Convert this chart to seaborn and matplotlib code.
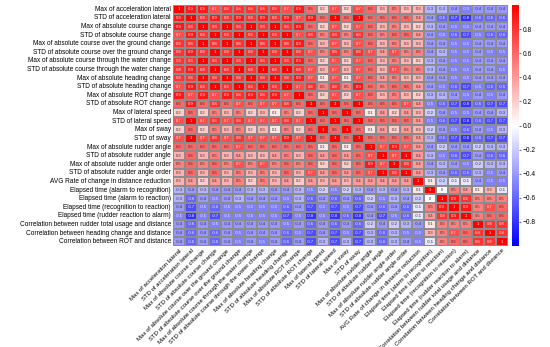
import numpy as np
import pandas as pd
import seaborn as sns
import matplotlib.pyplot as plt
from matplotlib.colors import LinearSegmentedColormap

labels = [
    'Max of acceleration lateral',
    'STD of acceleration lateral',
    'Max of absolute course change',
    'STD of absolute course change',
    'Max of absolute course over the ground change',
    'STD of absolute course over the ground change',
    'Max of absolute course through the water change',
    'STD of absolute course through the water change',
    'Max of absolute heading change',
    'STD of absolute heading change',
    'Max of absolute ROT change',
    'STD of absolute ROT change',
    'Max of lateral speed',
    'STD of lateral speed',
    'Max of sway',
    'STD of sway',
    'Max of absolute rudder angle',
    'STD of absolute rudder angle',
    'Max of absolute rudder angle order',
    'STD of absolute rudder angle order',
    'AVG Rate of change in distance reduction',
    'Elapsed time (alarm to recognition)',
    'Elapsed time (alarm to reaction)',
    'Elapsed time (recognition to reaction)',
    'Elapsed time (rudder reaction to alarm)',
    'Correlation between rudder total usage and distance',
    'Correlation between heading change and distance',
    'Correlation between ROT and distance',
]

# upper triangle: row i holds the values of columns i..28
upper = [
    [1, 0.9, 0.9, 0.7, 0.8, 0.8, 0.8, 0.8, 0.8, 0.7, 0.9, 0.6, 0.2, 0.7, 0.2, 0.7, 0.6, 0.3, 0.5, 0.3, 0.3, -0.3, -0.3, -0.4, -0.5, -0.4, -0.4, -0.4],
    [1, 0.8, 0.9, 0.8, 0.9, 0.8, 0.9, 0.8, 0.9, 0.7, 0.9, 0.6, 1, 0.6, 1, 0.6, 0.6, 0.6, 0.6, 0.4, -0.4, -0.6, -0.7, -0.8, -0.6, -0.6, -0.6],
    [1, 0.8, 1, 0.8, 1, 0.8, 1, 0.8, 0.9, 0.6, 0.2, 0.7, 0.2, 0.7, 0.6, 0.3, 0.5, 0.3, 0.2, -0.3, -0.4, -0.5, -0.5, -0.4, -0.4, -0.4],
    [1, 0.8, 1, 0.8, 1, 0.8, 1, 0.7, 0.8, 0.5, 0.8, 0.5, 0.8, 0.6, 0.5, 0.6, 0.6, 0.4, -0.4, -0.5, -0.6, -0.7, -0.5, -0.6, -0.6],
    [1, 0.8, 1, 0.8, 1, 0.8, 0.9, 0.6, 0.3, 0.7, 0.3, 0.7, 0.6, 0.3, 0.5, 0.3, 0.3, -0.4, -0.4, -0.5, -0.5, -0.4, -0.4, -0.4],
    [1, 0.8, 1, 0.8, 1, 0.8, 0.7, 0.5, 0.8, 0.5, 0.8, 0.7, 0.4, 0.7, 0.5, 0.5, -0.4, -0.3, -0.5, -0.5, -0.4, -0.5, -0.5],
    [1, 0.8, 1, 0.8, 0.9, 0.6, 0.2, 0.7, 0.2, 0.7, 0.6, 0.3, 0.5, 0.3, 0.2, -0.3, -0.4, -0.5, -0.5, -0.4, -0.4, -0.4],
    [1, 0.8, 1, 0.8, 0.7, 0.3, 0.7, 0.3, 0.7, 0.6, 0.3, 0.7, 0.5, 0.5, -0.3, -0.4, -0.5, -0.5, -0.4, -0.4, -0.5],
    [1, 0.8, 0.9, 0.7, 0.1, 0.7, 0.1, 0.7, 0.6, 0.4, 0.5, 0.3, 0.3, -0.4, -0.4, -0.5, -0.5, -0.4, -0.4, -0.4],
    [1, 0.7, 0.8, 0.5, 0.8, 0.5, 0.9, 0.6, 0.5, 0.6, 0.6, 0.4, -0.4, -0.5, -0.6, -0.7, -0.5, -0.6, -0.6],
    [1, 0.6, 0.2, 0.7, 0.2, 0.7, 0.6, 0.3, 0.5, 0.3, 0.2, -0.3, -0.3, -0.4, -0.5, -0.4, -0.5, -0.4],
    [1, 0.6, 1, 0.6, 1, 0.6, 0.6, 0.6, 0.7, 0.4, -0.5, -0.6, -0.7, -0.8, -0.6, -0.7, -0.7],
    [1, 0.6, 1, 0.6, 0.1, 0.4, 0.2, 0.4, 0.3, -0.2, -0.4, -0.5, -0.5, -0.4, -0.4, -0.3],
    [1, 0.6, 1, 0.6, 0.6, 0.6, 0.6, 0.4, -0.5, -0.6, -0.7, -0.8, -0.6, -0.7, -0.7],
    [1, 0.6, 0.1, 0.4, 0.2, 0.4, 0.3, -0.2, -0.4, -0.5, -0.6, -0.4, -0.5, -0.3],
    [1, 0.6, 0.6, 0.6, 0.6, 0.4, -0.3, -0.6, -0.7, -0.8, -0.6, -0.7, -0.7],
    [1, 0.7, 0.9, 0.7, 0.4, -0.4, -0.2, -0.4, -0.4, -0.2, -0.3, -0.3],
    [1, 0.7, 1, 0.4, -0.3, -0.5, -0.6, -0.7, -0.4, -0.6, -0.6],
    [1, 0.8, 0.4, -0.4, -0.3, -0.4, -0.5, -0.2, -0.3, -0.3],
    [1, 0.4, -0.3, -0.4, -0.6, -0.6, -0.3, -0.5, -0.4],
    [1, 0.1, -0.2, -0.1, -0.1, -0.4, -0.5, -0.5],
    [1, 0, 0.5, 0.4, 0.1, 0.3, -0.1],
    [1, 0.9, 0.8, 0.5, 0.5, 0.5],
    [1, 0.9, 0.5, 0.7, 0.6],
    [1, 0.5, 0.6, 0.6],
    [1, 0.8, 0.8],
    [1, 0.8],
    [1],
]

n = len(labels)
corr = np.zeros((n, n))
for i, row in enumerate(upper):
    corr[i, i:] = row
    corr[i:, i] = row
df = pd.DataFrame(corr, index=labels, columns=labels)
annot = df.map(lambda v: f'{v:g}')

plt.rcParams['font.family'] = ['Liberation Sans', 'DejaVu Sans']
cmap = LinearSegmentedColormap.from_list('bwr_m', ['#0000ff', '#ffffff', '#ff0000'])

fig = plt.figure(figsize=(5.5, 3.47), dpi=100)
ax = fig.add_axes([173 / 550, 1 - 246 / 347, 335 / 550, 241 / 347])
cax = fig.add_axes([512 / 550, 1 - 246 / 347, 7 / 550, 241 / 347])

sns.heatmap(df, ax=ax, cbar_ax=cax, cmap=cmap, vmin=-1, vmax=1,
            annot=annot, fmt='', annot_kws={'fontsize': 3},
            linewidths=0.3, linecolor='0.55',
            cbar_kws={'ticks': [-0.8, -0.6, -0.4, -0.2, 0, 0.2, 0.4, 0.6, 0.8]})

# light text on the strong cells, dark on the pale ones
for t, v in zip(ax.texts, corr.flatten()):
    t.set_color('#f2f2f2' if (v >= 0.7 or v <= -0.5) else '#333333')

ax.set_xticks(np.arange(n) + 0.5)
ax.set_xticklabels(labels, rotation=45, ha='right', rotation_mode='anchor', fontsize=4.3)
ax.set_yticks(np.arange(n) + 0.5)
ax.set_yticklabels(labels, rotation=0, fontsize=4.7)
ax.tick_params(length=0, pad=1.5)
cax.tick_params(labelsize=4.8, length=1.5, width=0.4, pad=1)
for s in cax.spines.values():
    s.set_visible(False)

fig.savefig('out.png', dpi=100)
